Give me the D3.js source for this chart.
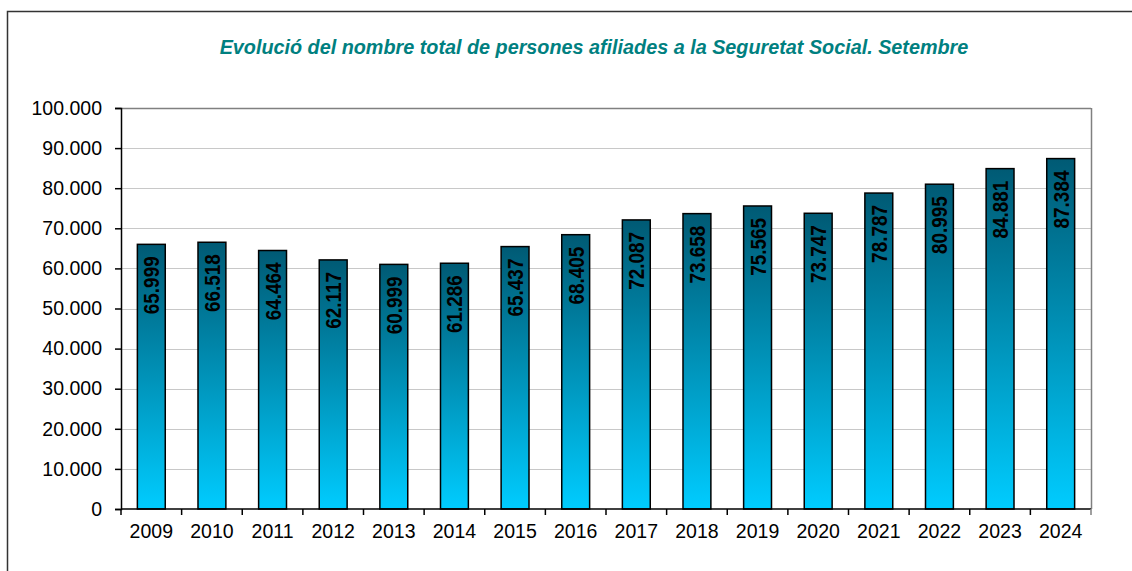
<!DOCTYPE html>
<html>
<head>
<meta charset="utf-8">
<script src="https://cdn.jsdelivr.net/npm/d3@7"></script>
<style>
  body { margin: 0; background: #fff; }
  svg { display: block; font-family: "Liberation Sans", Arial, sans-serif; }
</style>
</head>
<body>
<div id="chart"></div>
<script>
// Chart data
const years = ['2009', '2010', '2011', '2012', '2013', '2014', '2015', '2016',
               '2017', '2018', '2019', '2020', '2021', '2022', '2023', '2024'];
const afiliats = [65999, 66518, 64464, 62117, 60999, 61286, 65437, 68405,
                  72087, 73658, 75565, 73747, 78787, 80995, 84881, 87384];
const yTicks = [0, 10000, 20000, 30000, 40000, 50000, 60000, 70000, 80000, 90000, 100000];
const title = 'Evolució del nombre total de persones afiliades a la Seguretat Social. Setembre';

const width = 1132;
const height = 571;
const margin = { top: 108, right: 41, bottom: 62, left: 121 };

const svg = d3.select('#chart')
    .append('svg')
    .attr('width', width)
    .attr('height', height);

// Outer frame
svg.append('rect')
    .attr('x', 7.5)
    .attr('y', 11.5)
    .attr('width', width)
    .attr('height', height)
    .attr('fill', 'none')
    .attr('stroke', '#333')
    .attr('stroke-width', 1.5);

// Gradient for bars (dark teal at top, cyan at bottom)
const grad = svg.append('defs').append('linearGradient')
    .attr('id', 'barGrad')
    .attr('x1', 0).attr('y1', 0).attr('x2', 0).attr('y2', 1);
grad.append('stop').attr('offset', '0%').attr('stop-color', '#005a74');
grad.append('stop').attr('offset', '50%').attr('stop-color', '#0092b8');
grad.append('stop').attr('offset', '100%').attr('stop-color', '#00ccff');

const x = d3.scaleBand()
    .domain(years)
    .range([margin.left, width - margin.right])
    .paddingInner(0.54)
    .paddingOuter(0.27);

const y = d3.scaleLinear()
    .domain([0, 100000])
    .range([height - margin.bottom, margin.top]);

const fmt = d3.formatLocale({ decimal: ',', thousands: '.', grouping: [3], currency: ['', ''] }).format(',d');

// Gridlines
svg.append('g')
    .selectAll('line')
    .data(yTicks.filter(d => d > 0))
    .join('line')
    .attr('x1', margin.left)
    .attr('x2', width - margin.right)
    .attr('y1', d => Math.round(y(d)) + 0.5)
    .attr('y2', d => Math.round(y(d)) + 0.5)
    .attr('stroke', d => d === 100000 ? '#808080' : '#c8c8c8')
    .attr('stroke-width', d => d === 100000 ? 1.5 : 1);

// Right border of plot area
svg.append('line')
    .attr('x1', width - margin.right + 0.5)
    .attr('x2', width - margin.right + 0.5)
    .attr('y1', margin.top)
    .attr('y2', height - margin.bottom)
    .attr('stroke', '#808080')
    .attr('stroke-width', 1.5);

// Bars
svg.append('g')
    .selectAll('rect')
    .data(afiliats)
    .join('rect')
    .attr('x', (d, i) => x(years[i]))
    .attr('y', d => y(d))
    .attr('width', x.bandwidth())
    .attr('height', d => y(0) - y(d))
    .attr('fill', 'url(#barGrad)')
    .attr('stroke', '#000')
    .attr('stroke-width', 1.5);

// Value labels, rotated, inside top of bar
svg.append('g')
    .selectAll('text')
    .data(afiliats)
    .join('text')
    .attr('transform', (d, i) =>
        `translate(${x(years[i]) + x.bandwidth() / 2 + 8},${y(d) + 12}) rotate(-90) scale(0.86,1)`)
    .attr('text-anchor', 'end')
    .attr('font-size', '22px')
    .attr('font-weight', 'bold')
    .attr('fill', '#000')
    .text(d => fmt(d));

// Y axis
const yAxis = svg.append('g')
    .attr('transform', `translate(${margin.left},0)`)
    .call(d3.axisLeft(y).tickValues(yTicks).tickSize(6).tickPadding(13).tickFormat(d => fmt(d)));
yAxis.selectAll('text').attr('font-size', '19.5px').attr('fill', '#000').attr('font-family', '"Liberation Sans", Arial, sans-serif');
yAxis.selectAll('line, path').attr('stroke', '#000').attr('stroke-width', 1.5);

// X axis: line with ticks at band boundaries
const xAxis = svg.append('g');
xAxis.append('line')
    .attr('x1', margin.left)
    .attr('x2', width - margin.right)
    .attr('y1', y(0))
    .attr('y2', y(0))
    .attr('stroke', '#000')
    .attr('stroke-width', 1.5);
const step = x.step();
xAxis.selectAll('line.tick')
    .data(d3.range(years.length + 1))
    .join('line')
    .attr('class', 'tick')
    .attr('x1', i => margin.left + i * step)
    .attr('x2', i => margin.left + i * step)
    .attr('y1', y(0))
    .attr('y2', y(0) + 6)
    .attr('stroke', i => i === years.length ? '#808080' : '#000')
    .attr('stroke-width', 1.5);
xAxis.selectAll('text')
    .data(years)
    .join('text')
    .attr('x', d => x(d) + x.bandwidth() / 2)
    .attr('y', y(0) + 29)
    .attr('text-anchor', 'middle')
    .attr('font-size', '19.5px')
    .attr('fill', '#000')
    .text(d => d);

// Title
svg.append('text')
    .attr('x', 594)
    .attr('y', 54)
    .attr('text-anchor', 'middle')
    .attr('font-size', '19.8px')
    .attr('font-weight', 'bold')
    .attr('font-style', 'italic')
    .attr('fill', '#008080')
    .text(title);
</script>
</body>
</html>
